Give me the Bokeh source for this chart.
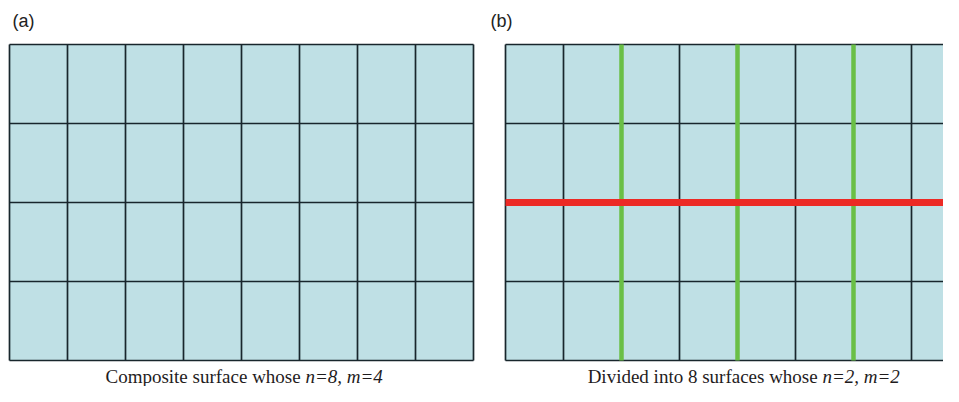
from bokeh.plotting import figure
from bokeh.models import Range1d
from bokeh.core.properties import value
from bokeh.embed import file_html
from bokeh.resources import INLINE

# ---- data ----
panel_labels = ["(a)", "(b)"]
caption_plain = ["Composite surface whose", "Divided into 8 surfaces whose"]
caption_italic = ["n=8, m=4", "n=2, m=2"]
n_cells = [8, 8]          # columns of cells in each panel
m_cells = [4, 4]          # rows of cells in each panel
sub_n = [None, 2]         # columns per sub-surface (panel b)
sub_m = [None, 2]         # rows per sub-surface (panel b)

# ---- layout (cell units) ----
W, H = 943, 386
CW, RH = 58.0, 79.0                   # pixel size of one cell
panel_x0 = [0.0, 496.0 / CW]          # left edge of each panel
label_dx = [0.05, -0.26]
label_y = -0.30
cap_y = 332.0 / RH
cap_split = [296.0 / CW, 813.0 / CW]
space_w = 4.8 / CW

FILL = "#bfe0e5"
GRID = "#18262c"
GREEN = "#6abf46"
RED = "#ec2a25"

x0 = -9.0 / CW
y_top = -44.0 / RH
p = figure(width=W, height=H, output_backend="svg", toolbar_location=None,
           x_range=Range1d(x0, x0 + W / CW),
           y_range=Range1d(y_top + H / RH, y_top),
           x_axis_type=None, y_axis_type=None, min_border=0)
p.grid.visible = False
p.outline_line_color = None
p.background_fill_color = "white"
p.border_fill_color = "white"

for k in range(2):
    ox = panel_x0[k]
    n, m = n_cells[k], m_cells[k]
    # cells
    L, R, T, B = [], [], [], []
    for i in range(n):
        for j in range(m):
            L.append(ox + i); R.append(ox + i + 1); T.append(j); B.append(j + 1)
    p.quad(left=L, right=R, top=T, bottom=B, fill_color=FILL, line_color=None)
    # grid lines
    xs0 = [ox + i for i in range(n + 1)]
    p.segment(x0=xs0, y0=[0] * (n + 1), x1=xs0, y1=[m] * (n + 1),
              line_color=GRID, line_width=1.7)
    p.segment(x0=[ox] * (m + 1), y0=list(range(m + 1)), x1=[ox + n] * (m + 1),
              y1=list(range(m + 1)), line_color=GRID, line_width=1.7)
    # sub-surface divisions
    if sub_n[k]:
        gx = [ox + i for i in range(sub_n[k], n, sub_n[k])]
        p.segment(x0=gx, y0=[0] * len(gx), x1=gx, y1=[m] * len(gx),
                  line_color=GREEN, line_width=4.5)
        ry = list(range(sub_m[k], m, sub_m[k]))
        p.segment(x0=[ox] * len(ry), y0=ry, x1=[ox + n] * len(ry), y1=ry,
                  line_color=RED, line_width=7)
    # panel label
    p.text(x=[ox + label_dx[k]], y=[label_y], text=[panel_labels[k]],
           text_font=value("Liberation Sans"), text_font_size="18px",
           text_color="#222222", text_baseline="middle", text_align="left")
    # caption
    p.text(x=[cap_split[k] - space_w], y=[cap_y], text=[caption_plain[k]],
           text_font=value("Liberation Serif"), text_font_size="19px",
           text_color="#1f1c1d", text_baseline="middle", text_align="right")
    p.text(x=[cap_split[k]], y=[cap_y], text=[caption_italic[k]],
           text_font=value("Liberation Serif"), text_font_size="19px",
           text_font_style="italic",
           text_color="#1f1c1d", text_baseline="middle", text_align="left")

open("out.html", "w").write(file_html(p, INLINE))
